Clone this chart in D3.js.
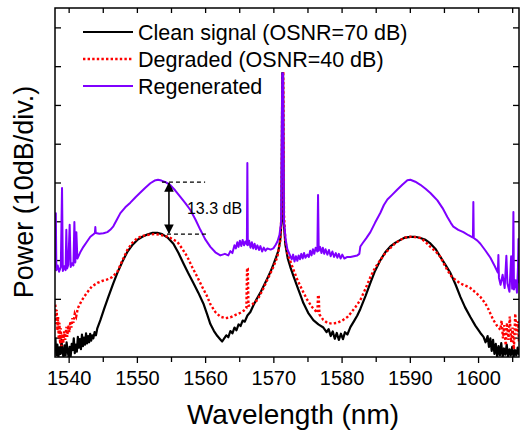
<!DOCTYPE html>
<html>
<head>
<meta charset="utf-8">
<script src="https://cdn.jsdelivr.net/npm/d3@7"></script>
<style>
  body { margin: 0; background: #fff; }
  svg { display: block; font-family: "Liberation Sans", Arial, sans-serif; }
</style>
</head>
<body>
<svg id="chart" width="520" height="434"></svg>
<script>
// spectrum data (wavelength nm / power dB)
const cleanWl = [1538.05,1538.2,1538.35,1538.5,1538.65,1538.8,1538.95,1539.1,1539.25,1539.4,1539.55,1539.7,1539.85,1540.0,1540.15,1540.3,1540.45,1540.6,1540.75,1540.9,1541.05,1541.2,1541.35,1541.5,1541.65,1541.8,1541.95,1542.1,1542.25,1542.4,1542.55,1542.7,1542.85,1543.0,1543.15,1543.3,1543.45,1543.62,1543.8,1544.0,1544.2,1544.65,1545.2,1545.82,1546.5,1547.14,1547.9,1548.6,1549.3,1550.07,1550.8,1551.53,1552.3,1553.0,1553.7,1554.5,1555.35,1556.1,1556.81,1557.5,1558.28,1559.0,1559.74,1560.3,1560.77,1561.3,1561.8,1562.2,1562.5,1562.8,1563.1,1563.4,1563.7,1564.0,1564.3,1564.6,1564.9,1565.2,1565.5,1565.8,1566.2,1566.63,1567.1,1567.6,1568.1,1568.6,1569.1,1569.56,1570.0,1570.4,1570.73,1571.0,1571.2,1571.3,1571.42,1571.52,1571.76,1572.1,1572.49,1573.0,1573.52,1574.0,1574.4,1575.1,1575.86,1576.6,1577.33,1577.8,1578.1,1578.4,1578.7,1579.0,1579.3,1579.6,1579.9,1580.2,1580.5,1580.85,1581.29,1581.8,1582.3,1582.75,1583.5,1584.22,1584.9,1585.69,1586.4,1587.15,1587.9,1588.62,1589.3,1590.08,1590.8,1591.55,1592.3,1593.01,1593.8,1594.48,1595.2,1595.94,1596.7,1597.41,1598.1,1598.87,1599.6,1600.34,1600.8,1601.1,1601.4,1601.6,1601.8,1602.0,1602.2,1602.4,1602.6,1602.8,1603.0,1603.2,1603.4,1603.6,1603.8,1604.0,1604.2,1604.4,1604.6,1604.8,1605.0,1605.2,1605.4,1605.6,1605.8,1606.0];
const cleanDb = [-80.0,-84.5,-81.8,-85,-82.5,-84.2,-80.6,-83.8,-85,-82,-84.6,-81.2,-83.5,-85,-82.4,-84.8,-81.6,-83.2,-80.2,-84,-81.8,-83.6,-79.8,-82.6,-80.4,-83,-79.2,-82.2,-80,-81.8,-78.9,-81.5,-79.6,-81.2,-79.0,-80.8,-79.4,-80.2,-78.6,-79.4,-77.6,-75.5,-72.6,-69.5,-66.2,-63.3,-60.3,-57.9,-56.2,-54.8,-54.0,-53.4,-53.0,-53.0,-53.3,-54.2,-55.8,-58.2,-60.8,-63.3,-65.9,-68.4,-71.2,-74.0,-76.5,-78.3,-79.6,-80.4,-81.0,-80.2,-79.4,-79.9,-78.3,-78.9,-77.4,-78.1,-76.6,-77.0,-75.6,-75.9,-74.3,-73.4,-71.6,-69.9,-68.4,-66.6,-64.8,-63.1,-61.2,-59.3,-57.6,-55.0,-50.0,-11.8,-11.8,-50.0,-56.0,-59.5,-61.8,-64.4,-66.9,-69.2,-71.1,-73.6,-75.5,-76.6,-77.4,-78.6,-77.8,-79.6,-78.4,-80.3,-78.8,-80.6,-79.0,-80.4,-78.6,-79.2,-77.3,-75.8,-74.3,-72.6,-69.3,-65.9,-62.8,-60.0,-58.0,-56.5,-55.5,-54.8,-54.2,-54.0,-54.0,-54.3,-54.8,-55.7,-57.2,-59.2,-61.2,-63.3,-66.3,-69.5,-72.2,-74.7,-76.9,-78.8,-79.8,-81.2,-79.6,-82.4,-80.2,-83.4,-80.6,-84.2,-81.6,-85,-82.2,-84.6,-81.4,-85,-82.8,-84.4,-81.8,-85,-83,-84.6,-82.4,-85,-83.2,-84.6,-82.6,-84.4];

const degradedWl = [1538.05,1538.15,1538.25,1538.35,1538.45,1538.55,1538.65,1538.75,1538.85,1538.95,1539.05,1539.2,1539.35,1539.5,1539.65,1539.8,1539.95,1540.1,1540.25,1540.4,1540.55,1540.7,1540.9,1541.1,1541.35,1541.72,1542.2,1542.74,1543.4,1544.21,1544.9,1545.67,1546.4,1547.14,1547.9,1548.6,1549.3,1550.07,1551.0,1551.97,1552.7,1553.44,1554.6,1555.93,1556.7,1557.4,1558.1,1558.86,1559.6,1560.33,1560.77,1561.5,1562.23,1563.0,1563.7,1564.4,1565.17,1565.7,1566.05,1566.15,1566.25,1566.35,1566.8,1567.66,1568.4,1569.12,1569.9,1570.59,1571.0,1571.2,1571.32,1571.45,1571.55,1571.76,1572.05,1572.8,1573.52,1574.25,1574.98,1575.7,1576.45,1576.55,1576.65,1576.75,1577.3,1577.92,1578.6,1579.38,1580.1,1580.85,1581.29,1582.0,1582.75,1583.5,1584.22,1584.9,1585.69,1586.4,1587.15,1587.9,1588.62,1589.3,1590.08,1590.8,1591.55,1592.3,1593.01,1593.8,1594.48,1595.0,1595.5,1596.1,1596.68,1597.3,1597.85,1598.4,1598.87,1599.6,1600.34,1600.9,1601.37,1601.8,1602.25,1602.8,1603.27,1603.45,1603.65,1603.85,1604.05,1604.25,1604.45,1604.65,1604.85,1605.05,1605.25,1605.45,1605.65,1605.85,1606.0];
const degradedDb = [-71.5,-76.5,-72.8,-78.2,-74.6,-80.4,-76.2,-81.6,-77.6,-82.2,-79.0,-81.4,-78.4,-80.6,-77.2,-79.8,-76.8,-78.6,-75.8,-77.4,-75.0,-76.2,-73.8,-74.6,-72.4,-71.1,-69.6,-68.3,-66.8,-65.9,-65.4,-65.0,-64.4,-63.0,-60.0,-57.4,-55.6,-54.3,-53.7,-53.4,-53.3,-53.5,-54.0,-55.3,-57.2,-59.2,-61.8,-64.4,-67.0,-69.5,-71.4,-73.4,-74.6,-75.0,-74.8,-74.2,-73.6,-73.0,-72.4,-62.0,-62.2,-71.8,-71.6,-70.3,-67.8,-65.1,-62.2,-59.2,-55.0,-48.0,-11.8,-11.8,-48.0,-55.0,-58.2,-61.8,-65.1,-67.8,-70.3,-72.2,-73.6,-69.0,-69.2,-74.0,-75.4,-76.2,-76.4,-76.2,-75.6,-74.7,-73.8,-72.2,-70.3,-67.4,-64.4,-62.0,-60.0,-58.2,-56.9,-55.6,-54.8,-54.2,-54.0,-54.1,-54.3,-55.3,-56.6,-57.8,-59.2,-61.0,-62.6,-64.2,-65.1,-65.9,-66.4,-66.8,-67.2,-68.3,-69.5,-70.8,-72.1,-73.8,-75.5,-77.0,-78.0,-75.6,-80.2,-76.8,-82.0,-76.2,-80.6,-74.6,-81.2,-77.4,-83.0,-73.8,-79.2,-75.8,-81.6];

const regenWl = [1538.05,1538.12,1538.2,1538.4,1538.6,1538.85,1539.03,1539.15,1539.35,1539.55,1539.66,1539.78,1539.95,1540.15,1540.3,1540.5,1540.7,1540.84,1540.98,1541.13,1541.28,1541.7,1542.16,1542.7,1543.18,1543.6,1543.85,1543.91,1543.97,1544.5,1545.1,1545.67,1546.1,1546.55,1547.1,1547.58,1548.3,1549.04,1549.8,1550.51,1551.2,1551.97,1552.6,1553.1,1553.6,1554.2,1554.91,1555.6,1556.37,1557.1,1557.84,1558.6,1559.3,1560.0,1560.77,1561.5,1562.23,1562.9,1563.4,1563.7,1564.0,1564.3,1564.5,1564.72,1564.9,1565.1,1565.3,1565.5,1565.7,1565.9,1566.12,1566.19,1566.26,1566.45,1566.65,1566.85,1567.05,1567.25,1567.45,1567.66,1567.9,1568.1,1568.35,1568.6,1568.85,1569.12,1569.6,1570.0,1570.3,1570.6,1570.9,1571.15,1571.3,1571.42,1571.55,1571.8,1572.05,1572.4,1572.7,1572.9,1573.1,1573.3,1573.52,1573.7,1573.9,1574.1,1574.3,1574.5,1574.7,1574.98,1575.2,1575.4,1575.6,1575.8,1576.0,1576.2,1576.45,1576.55,1576.65,1576.85,1577.05,1577.25,1577.45,1577.65,1577.92,1578.15,1578.4,1578.65,1578.9,1579.15,1579.38,1579.6,1579.85,1580.1,1580.4,1580.85,1581.3,1581.8,1582.3,1582.6,1582.75,1583.1,1583.6,1584.22,1584.9,1585.69,1586.2,1586.71,1587.4,1588.18,1588.9,1589.64,1590.08,1590.8,1591.55,1592.3,1593.01,1593.5,1594.04,1594.8,1595.5,1596.0,1596.38,1597.1,1597.85,1598.6,1599.25,1599.31,1599.37,1599.9,1600.34,1601.1,1601.81,1602.4,1602.9,1602.98,1603.06,1603.3,1603.6,1603.9,1604.15,1604.3,1604.6,1604.85,1605.0,1605.1,1605.18,1605.26,1605.5,1605.7,1605.85,1605.92,1606.0];
const regenDb = [-62.0,-47.9,-62.6,-61.4,-63.0,-61.8,-41.4,-62.8,-61.6,-62.6,-52.2,-62.2,-61.2,-50.9,-61.8,-60.8,-61.4,-50.2,-60.6,-52.8,-59.6,-58.0,-56.6,-55.2,-54.0,-53.4,-53.0,-51.5,-53.0,-53.2,-53.1,-52.8,-52.2,-51.3,-49.5,-47.9,-46.4,-45.2,-43.8,-42.6,-41.4,-40.2,-39.5,-39.3,-39.5,-39.9,-40.7,-42.0,-43.7,-45.3,-47.1,-49.6,-52.2,-54.6,-56.6,-58.0,-58.8,-58.4,-58.8,-57.7,-58.2,-56.2,-57.0,-55.4,-56.6,-55.0,-56.4,-54.8,-56.2,-55.2,-56.0,-35.0,-56.2,-55.0,-56.8,-55.4,-57.0,-55.8,-57.2,-56.2,-57.4,-56.4,-57.8,-56.8,-57.6,-57.0,-57.3,-57.0,-56.2,-55.2,-53.5,-50.0,-11.8,-11.8,-50.0,-54.6,-57.2,-58.6,-59.8,-58.6,-60.4,-59.0,-60.2,-58.8,-59.8,-58.4,-59.6,-58.2,-59.4,-58.6,-59.2,-57.6,-58.8,-57.2,-58.4,-56.8,-57.8,-43.2,-57.6,-56.6,-58.2,-56.8,-58.4,-57.2,-58.6,-57.4,-59.0,-57.8,-59.2,-58.2,-59.4,-58.4,-59.6,-58.6,-59.6,-59.2,-59.2,-59.0,-58.8,-58.4,-56.5,-55.6,-54.4,-52.8,-50.4,-47.8,-45.8,-44.4,-43.2,-41.8,-40.6,-39.4,-39.3,-39.8,-40.6,-41.6,-42.7,-43.6,-44.6,-46.6,-48.9,-50.4,-51.4,-52.2,-52.8,-53.6,-54.2,-45.0,-54.3,-55.0,-55.8,-57.6,-59.4,-61.4,-63.2,-58.7,-64.6,-66.4,-63.8,-67.2,-58.9,-66.0,-68.2,-59.0,-67.4,-63.2,-47.6,-67.6,-65.2,-68.4,-62.0,-54.6,-66.0];

const seriesNames = ["Clean signal (OSNR=70 dB)", "Degraded (OSNR=40 dB)", "Regenerated"];
const majorTicks = [1540, 1550, 1560, 1570, 1580, 1590, 1600];
const minorTicks = [1545, 1555, 1565, 1575, 1585, 1595, 1605];
const powerTicks = [-80, -70, -60, -50, -40, -30, -20, -10, 0];
// 13.3 dB annotation: regenerated peak vs clean peak
const annotWl = 1554.7;
const annotTop = -39.9;
const annotBottom = -53.3;

const margin = { top: 8, right: 1, bottom: 77, left: 55 };
const width = 520 - margin.left - margin.right;
const height = 434 - margin.top - margin.bottom;

const svg = d3.select("#chart");
const g = svg.append("g").attr("transform", `translate(${margin.left},${margin.top})`);

const x = d3.scaleLinear().domain([1538, 1606]).range([0, width]);
const y = d3.scaleLinear().domain([-85, 5]).range([height, 0]);

g.append("clipPath").attr("id", "clip")
  .append("rect").attr("width", width).attr("height", height);

// axes
function styleAxis(sel) {
  sel.select(".domain").remove();
  sel.selectAll("line").attr("stroke", "#000").attr("stroke-width", 1.3);
  sel.selectAll("text").attr("fill", "#000");
}
g.append("g").attr("transform", `translate(0,${height})`)
  .call(d3.axisBottom(x).tickValues(majorTicks).tickSize(6).tickPadding(8).tickFormat(d3.format("d")))
  .call(styleAxis)
  .selectAll("text").style("font-size", "20px");
g.append("g").attr("transform", `translate(0,${height})`)
  .call(d3.axisBottom(x).tickValues(minorTicks).tickSize(5).tickFormat(""))
  .call(styleAxis);
g.append("g")
  .call(d3.axisTop(x).tickValues(majorTicks.concat(minorTicks)).tickSize(-5).tickFormat(""))
  .call(styleAxis);
g.append("g")
  .call(d3.axisLeft(y).tickValues(powerTicks).tickSize(-6).tickFormat(""))
  .call(styleAxis);
g.append("g").attr("transform", `translate(${width},0)`)
  .call(d3.axisRight(y).tickValues(powerTicks).tickSize(-6).tickFormat(""))
  .call(styleAxis);

// data lines
const line = d3.line().x(d => x(d[0])).y(d => y(d[1]));
const plot = g.append("g").attr("clip-path", "url(#clip)");

plot.append("path")
  .datum(d3.zip(cleanWl, cleanDb))
  .attr("fill", "none").attr("stroke", "#000").attr("stroke-width", 2.2)
  .attr("stroke-linejoin", "round")
  .attr("d", line);

plot.append("path")
  .datum(d3.zip(degradedWl, degradedDb))
  .attr("fill", "none").attr("stroke", "#ff0000").attr("stroke-width", 2.4)
  .attr("stroke-dasharray", "2.4,2.2")
  .attr("d", line);

plot.append("path")
  .datum(d3.zip(regenWl, regenDb))
  .attr("fill", "none").attr("stroke", "#7f00ff").attr("stroke-width", 2)
  .attr("stroke-linejoin", "round")
  .attr("d", line);

// frame
g.append("rect")
  .attr("width", width).attr("height", height)
  .attr("fill", "none").attr("stroke", "#000").attr("stroke-width", 1.5);

// annotation
const ax = x(annotWl);
svg.append("defs").append("marker")
  .attr("id", "arrow").attr("viewBox", "0 0 10 10")
  .attr("refX", 9).attr("refY", 5)
  .attr("markerWidth", 6).attr("markerHeight", 6)
  .attr("orient", "auto-start-reverse")
  .append("path").attr("d", "M0,0L10,5L0,10z").attr("fill", "#000");

g.append("line")
  .attr("x1", ax - 7).attr("x2", x(1560))
  .attr("y1", y(annotTop)).attr("y2", y(annotTop))
  .attr("stroke", "#000").attr("stroke-width", 1.3).attr("stroke-dasharray", "4,3");
g.append("line")
  .attr("x1", ax - 2).attr("x2", x(1560.3))
  .attr("y1", y(annotBottom)).attr("y2", y(annotBottom))
  .attr("stroke", "#000").attr("stroke-width", 1.3).attr("stroke-dasharray", "4,3");
g.append("line")
  .attr("x1", ax).attr("x2", ax)
  .attr("y1", y(annotTop) + 1).attr("y2", y(annotBottom) - 1)
  .attr("stroke", "#000").attr("stroke-width", 1.6)
  .attr("marker-start", "url(#arrow)").attr("marker-end", "url(#arrow)");
g.append("text")
  .attr("x", ax + 18).attr("y", (y(annotTop) + y(annotBottom)) / 2)
  .attr("dy", "0.35em")
  .style("font-size", "16px")
  .text("13.3 dB");

// legend
const legendColors = ["#000", "#ff0000", "#7f00ff"];
const legendDash = [null, "2.4,2.2", null];
const legend = g.append("g").attr("transform", "translate(28,24)");
seriesNames.forEach((name, i) => {
  const row = legend.append("g").attr("transform", `translate(0,${i * 27})`);
  row.append("line")
    .attr("x1", 0).attr("x2", 50)
    .attr("stroke", legendColors[i]).attr("stroke-width", i === 1 ? 2.4 : 2)
    .attr("stroke-dasharray", legendDash[i]);
  row.append("text")
    .attr("x", 55).attr("dy", "0.35em")
    .style("font-size", "21.5px")
    .text(name);
});

// axis titles
svg.append("text")
  .attr("x", margin.left + width / 2 + 6).attr("y", 424)
  .attr("text-anchor", "middle")
  .style("font-size", "28px")
  .text("Wavelength (nm)");
svg.append("text")
  .attr("transform", "translate(33,192) rotate(-90)")
  .attr("text-anchor", "middle")
  .style("font-size", "27px")
  .text("Power (10dB/div.)");
</script>
</body>
</html>
